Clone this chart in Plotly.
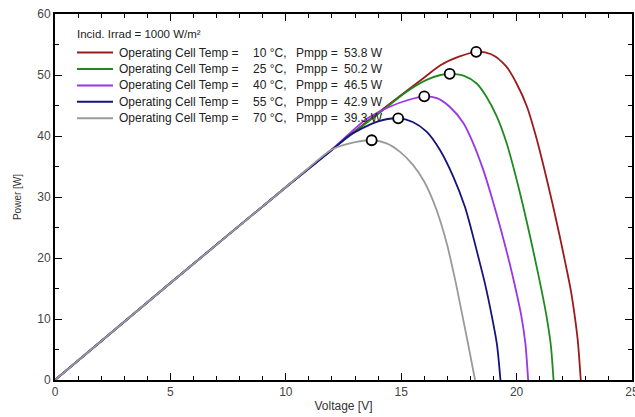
import plotly.graph_objects as go

# ---- data ----
temps = [10, 25, 40, 55, 70]
pmpp = [53.8, 50.2, 46.5, 42.9, 39.3]
vmpp = [18.25, 17.1, 16.0, 14.87, 13.72]
colors = ["#9b1b1b", "#1f8a1f", "#9a35e8", "#14147a", "#9a9a9a"]

v_10 = [0, 5, 10, 12, 14, 16, 16.7, 17.5, 18.25, 18.9, 19.55, 20.0, 20.45, 20.85, 21.2, 21.55, 21.85, 22.1, 22.35, 22.5, 22.65, 22.78]
p_10 = [0, 15.9, 31.6, 37.8, 43.8, 49.6, 51.6, 53.0, 53.8, 53.4, 51.4, 48.6, 44.8, 39.8, 34.6, 29.0, 23.9, 19.4, 14.7, 11.0, 6.5, 0]

v_25 = [0, 5, 10, 12, 14, 15.25, 16.1, 16.7, 17.1, 17.7, 18.27, 18.7, 19.14, 19.57, 19.93, 20.29, 20.58, 20.8, 21.05, 21.3, 21.48, 21.6]
p_25 = [0, 15.9, 31.6, 37.8, 43.6, 47.3, 49.2, 50.0, 50.2, 49.9, 48.6, 46.4, 43.2, 38.8, 33.9, 28.4, 23.6, 19.8, 15.3, 10.4, 5.8, 0]

v_40 = [0, 5, 10, 12, 13.5, 14.5, 15.3, 16.0, 16.55, 17.1, 17.7, 18.12, 18.56, 18.92, 19.28, 19.6, 19.9, 20.2, 20.38, 20.5]
p_40 = [0, 15.9, 31.6, 37.8, 42.8, 44.8, 45.9, 46.5, 46.2, 44.8, 42.1, 38.8, 34.4, 30.0, 25.2, 20.6, 15.9, 10.6, 6.0, 0]

v_55 = [0, 5, 10, 12, 12.8, 14.0, 14.87, 15.5, 16.1, 16.68, 17.26, 17.76, 18.0, 18.3, 18.63, 18.92, 19.15, 19.3]
p_55 = [0, 15.9, 31.6, 37.7, 40.2, 42.4, 42.9, 42.3, 40.7, 37.7, 33.3, 28.4, 25.2, 20.8, 15.8, 10.6, 5.8, 0]

v_70 = [0, 5, 10, 11.0, 12.0, 13.0, 13.72, 14.37, 14.95, 15.5, 16.0, 16.4, 16.7, 17.0, 17.35, 17.65, 17.92, 18.2]
p_70 = [0, 15.9, 31.6, 34.8, 37.8, 39.0, 39.3, 38.8, 37.4, 35.3, 32.5, 29.2, 26.0, 22.0, 16.2, 10.6, 5.5, 0]

curves_v = [v_10, v_25, v_40, v_55, v_70]
curves_p = [p_10, p_25, p_40, p_55, p_70]

x_ticks = [0, 5, 10, 15, 20, 25]
y_ticks = [0, 10, 20, 30, 40, 50, 60]

legend_title = "Incid. Irrad = 1000 W/m²"
legend_label = "Operating Cell Temp ="
FONT = "Liberation Sans, Arial, sans-serif"

fig = go.Figure()
for vv, pp, c in zip(curves_v, curves_p, colors):
    fig.add_trace(go.Scatter(x=vv, y=pp, mode="lines", showlegend=False, hoverinfo="skip",
                             line=dict(color=c, width=1.8, shape="spline", smoothing=0.8)))

fig.add_trace(go.Scatter(x=vmpp, y=pmpp, mode="markers", showlegend=False, hoverinfo="skip",
                         marker=dict(symbol="circle", size=10, color="white",
                                     line=dict(color="black", width=1.8))))

# ---- hand-built legend (paper coordinates) ----
W, H, L, B = 577.0, 366.0, 55.0, 380.0
def px(x):
    return (x - L) / W
def py(y):
    return (B - y) / H

txt = dict(size=12, color="#222222", family=FONT)
fig.add_annotation(x=px(75), y=py(33.5), xref="paper", yref="paper", text=legend_title,
                   showarrow=False, xanchor="left", yanchor="middle",
                   font=dict(size=11.5, color="#222222", family=FONT))
for i, (t, pm, c) in enumerate(zip(temps, pmpp, colors)):
    yy = py(52.6 + 16.4 * i)
    fig.add_shape(type="line", xref="paper", yref="paper", x0=px(77), x1=px(113),
                  y0=yy, y1=yy, line=dict(color=c, width=2))
    for xpos, s in [(117, legend_label), (251, f"{t} °C,"), (294, "Pmpp ="), (342, f"{pm} W")]:
        fig.add_annotation(x=px(xpos), y=yy, xref="paper", yref="paper", text=s,
                           showarrow=False, xanchor="left", yanchor="middle", font=txt)

axis_common = dict(showline=True, linecolor="black", linewidth=2, mirror="allticks",
                   ticks="inside", ticklen=7, tickwidth=1.2, tickcolor="black",
                   showgrid=False, zeroline=False, automargin=False,
                   ticklabeloverflow="allow",
                   tickfont=dict(family=FONT, size=12, color="#444444"))

fig.update_xaxes(range=[0, 25], tickvals=x_ticks, ticktext=[str(v) for v in x_ticks],
                 minor=dict(dtick=1, ticks="inside", ticklen=4, tickcolor="black", tickwidth=1),
                 title=dict(text="Voltage [V]", font=dict(size=12, color="#333333", family=FONT), standoff=3),
                 **axis_common)
fig.update_yaxes(range=[0, 60], tickvals=y_ticks, ticktext=[str(v) for v in y_ticks],
                 minor=dict(dtick=5, ticks="inside", ticklen=4, tickcolor="black", tickwidth=1),
                 title=dict(text="Power [W]", font=dict(size=10, color="#333333", family=FONT), standoff=14),
                 **axis_common)

fig.update_layout(
    width=635, height=417,
    margin=dict(l=55, r=3, t=14, b=37, autoexpand=False),
    paper_bgcolor="white", plot_bgcolor="white",
    font=dict(family=FONT, color="#222222"),
    showlegend=False, hovermode=False,
)

fig.write_html("out.html", config={"displayModeBar": False},
               post_script="document.body.style.margin='0';document.body.style.padding='0';")
